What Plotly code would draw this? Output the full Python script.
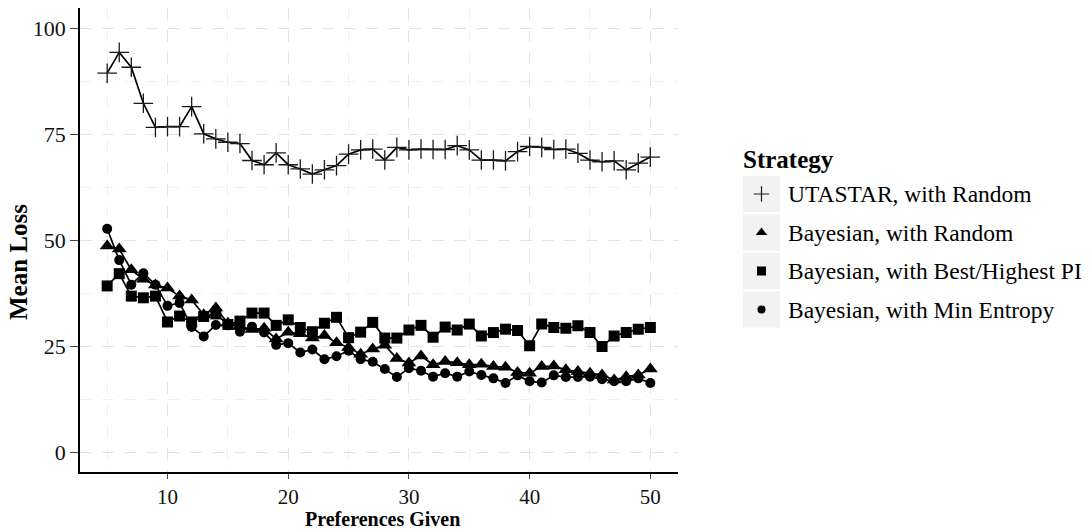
import plotly.graph_objects as go

W, H = 1092, 531

preferences = list(range(5, 51))

utastar_random = [89.5, 94.4, 90.9, 82.4, 76.7, 76.9, 76.9, 81.6, 75.2, 74.0,
                  73.2, 72.9, 68.9, 67.9, 70.7, 67.9, 66.9, 65.7, 66.7, 67.7,
                  70.4, 71.4, 71.6, 69.0, 72.0, 71.4, 71.6, 71.5, 71.5, 72.4,
                  71.4, 69.0, 69.0, 68.8, 71.0, 72.2, 72.0, 71.5, 71.6, 70.6,
                  69.0, 68.6, 68.8, 66.7, 68.3, 69.7]

bayes_random = [48.7, 48.0, 43.1, 40.9, 39.5, 38.8, 36.9, 36.0, 32.5, 34.1,
                30.5, 29.8, 29.0, 29.3, 26.8, 28.4, 28.0, 27.0, 27.6, 25.9,
                24.8, 23.2, 24.4, 25.3, 22.2, 21.1, 22.8, 20.7, 21.5, 21.2,
                20.7, 20.8, 20.3, 20.1, 18.9, 18.7, 20.3, 20.4, 19.5, 19.1,
                18.7, 18.3, 17.1, 17.9, 18.3, 19.7]

bayes_best_pi = [39.3, 42.2, 36.9, 36.5, 36.9, 30.8, 32.2, 30.8, 32.1, 32.7,
                 30.2, 31.0, 32.9, 32.9, 30.0, 31.3, 29.5, 28.5, 30.5, 31.9,
                 27.1, 28.4, 30.7, 27.0, 27.0, 28.9, 30.0, 27.2, 29.6, 28.9,
                 30.3, 27.5, 28.3, 29.1, 28.8, 25.2, 30.3, 29.5, 29.3, 29.9,
                 28.3, 25.0, 27.5, 28.3, 29.1, 29.5]

bayes_min_entropy = [52.8, 45.4, 39.6, 42.3, 39.6, 34.6, 35.3, 29.6, 27.4, 30.1,
                     30.0, 28.5, 29.7, 28.3, 25.4, 25.8, 23.6, 24.3, 22.0, 22.7,
                     24.0, 22.0, 21.4, 19.7, 17.8, 19.9, 19.3, 17.9, 18.7, 17.9,
                     19.1, 18.3, 17.5, 16.4, 18.2, 16.8, 16.5, 18.2, 17.8, 17.8,
                     17.9, 17.3, 16.8, 16.8, 17.5, 16.4]

series_names = ["UTASTAR, with Random", "Bayesian, with Random",
                "Bayesian, with Best/Highest PI", "Bayesian, with Min Entropy"]
series_values = [utastar_random, bayes_random, bayes_best_pi, bayes_min_entropy]
series_symbols = ["cross-thin", "triangle-up", "square", "circle"]
plot_sizes = [14, 13, 11, 10]
legend_sizes = [11, 10, 9, 8]

x_ticks = [10, 20, 30, 40, 50]
y_ticks = [0, 25, 50, 75, 100]

FONT = "Liberation Serif"

# plot area in pixels
L, R, T, B = 80, 677.5, 7.5, 472

fig = go.Figure()

# lines first
for name, vals in zip(series_names, series_values):
    fig.add_trace(go.Scatter(x=preferences, y=vals, mode="lines",
                             line=dict(color="black", width=1.7),
                             showlegend=False, hoverinfo="skip"))
# then points
for name, vals, sym, sz in zip(series_names, series_values, series_symbols, plot_sizes):
    if sym == "cross-thin":
        marker = dict(symbol=sym, size=sz, color="black",
                      line=dict(color="#1a1a1a", width=1.3))
    else:
        marker = dict(symbol=sym, size=sz, color="black", line=dict(width=0))
    fig.add_trace(go.Scatter(x=preferences, y=vals, mode="markers", name=name,
                             marker=marker, showlegend=False))

# legend drawn on a pixel-coordinate overlay axis
leg_x_box0, leg_x_box1 = 743, 780
leg_centers = [194, 232.5, 271, 309.5]
shapes = []
for cy, sym, sz in zip(leg_centers, series_symbols, legend_sizes):
    shapes.append(dict(type="rect", xref="x2", yref="y2",
                       x0=leg_x_box0, x1=leg_x_box1, y0=cy - 18, y1=cy + 18,
                       fillcolor="#f2f2f2", line=dict(width=0), layer="below"))
    if sym == "cross-thin":
        marker = dict(symbol=sym, size=sz, color="black",
                      line=dict(color="#1a1a1a", width=1.2))
    else:
        marker = dict(symbol=sym, size=sz, color="black", line=dict(width=0))
    fig.add_trace(go.Scatter(x=[(leg_x_box0 + leg_x_box1) / 2], y=[cy],
                             xaxis="x2", yaxis="y2", mode="markers",
                             marker=marker, showlegend=False, hoverinfo="skip"))

annotations = [
    dict(text="<b>Strategy</b>", xref="x2", yref="y2", x=741, y=159,
         xanchor="left", yanchor="middle", showarrow=False,
         font=dict(family=FONT, size=25, color="black")),
    dict(text="<b>Mean Loss</b>", xref="x2", yref="y2", x=18, y=262,
         textangle=-90, xanchor="center", yanchor="middle", showarrow=False,
         font=dict(family=FONT, size=25, color="black")),
    dict(text="<b>Preferences Given</b>", xref="x2", yref="y2", x=(L + R) / 2 + 4, y=519,
         xanchor="center", yanchor="middle", showarrow=False,
         font=dict(family=FONT, size=20, color="black")),
]
for cy, name in zip(leg_centers, series_names):
    annotations.append(dict(text=name, xref="x2", yref="y2", x=786, y=cy,
                            xanchor="left", yanchor="middle", showarrow=False,
                            font=dict(family=FONT, size=23.5, color="black")))

fig.update_layout(
    width=W, height=H,
    margin=dict(l=0, r=0, t=0, b=0),
    paper_bgcolor="white", plot_bgcolor="rgba(0,0,0,0)",
    font=dict(family=FONT, size=22, color="black"),
    showlegend=False,
    xaxis=dict(domain=[L / W, R / W], range=[2.75, 52.25], anchor="y",
               tickvals=x_ticks, ticks="outside", ticklen=5, tickwidth=1.2,
               tickcolor="#444444", showline=True, linecolor="black", linewidth=1.6,
               zeroline=False, showgrid=True, gridcolor="#e3e3e3", gridwidth=1.4,
               griddash="12px,10px",
               minor=dict(tickvals=[5, 15, 25, 35, 45], showgrid=True,
                          gridcolor="#f1f1f1", gridwidth=1),
               tickfont=dict(family=FONT, size=21, color="#111111"),
               automargin=False),
    yaxis=dict(domain=[(H - B) / H, (H - T) / H], range=[-4.6, 105], anchor="x",
               tickvals=y_ticks, ticks="outside", ticklen=8, tickwidth=1.2,
               tickcolor="#444444", showline=True, linecolor="black", linewidth=1.6,
               zeroline=False, showgrid=True, gridcolor="#e3e3e3", gridwidth=1.4,
               griddash="12px,10px",
               minor=dict(tickvals=[12.5, 37.5, 62.5, 87.5], showgrid=True,
                          gridcolor="#f1f1f1", gridwidth=1),
               tickfont=dict(family=FONT, size=22, color="#111111"),
               automargin=False),
    xaxis2=dict(domain=[0, 1], range=[0, W], anchor="y2", visible=False,
                fixedrange=True),
    yaxis2=dict(domain=[0, 1], range=[H, 0], anchor="x2", visible=False,
                fixedrange=True),
    shapes=shapes,
    annotations=annotations,
)

fig.write_html("out.html")
